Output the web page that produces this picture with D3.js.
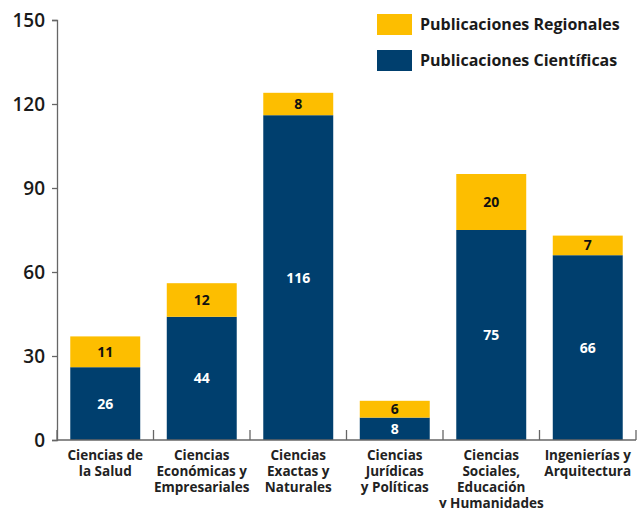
<!DOCTYPE html>
<html>
<head>
<meta charset="utf-8">
<script src="https://cdn.jsdelivr.net/npm/d3@7"></script>
<style>
  html, body { margin: 0; padding: 0; background: #fff; }
  svg { display: block; font-family: "Open Sans", "Noto Sans", sans-serif; }
</style>
</head>
<body>
<svg id="chart" width="642" height="508"></svg>
<script>
// Áreas de conocimiento (each entry is one label line)
const categories = [
  ["Ciencias de", "la Salud"],
  ["Ciencias", "Económicas y", "Empresariales"],
  ["Ciencias", "Exactas y", "Naturales"],
  ["Ciencias", "Jurídicas", "y Políticas"],
  ["Ciencias", "Sociales,", "Educación", "y Humanidades"],
  ["Ingenierías y", "Arquitectura"]
];
const cientificas = [26, 44, 116, 8, 75, 66];
const regionales = [11, 12, 8, 6, 20, 7];
const yTicks = [0, 30, 60, 90, 120, 150];
const seriesNames = ["Publicaciones Regionales", "Publicaciones Científicas"];
const colors = { regionales: "#FDBE00", cientificas: "#003F6E" };

const svg = d3.select("#chart");
const margin = { left: 57, right: 6, top: 20, bottom: 68 };
const W = 642, H = 508;

const x = d3.scaleBand()
  .domain(d3.range(categories.length))
  .range([margin.left, W - margin.right])
  .padding(0);
const y = d3.scaleLinear().domain([0, 150]).range([H - margin.bottom, margin.top]);
const barW = x.bandwidth() * 0.725;

// Stacked bars: científicas at the bottom, regionales on top
const rows = categories.map((c, i) => ({ i, cientificas: cientificas[i], regionales: regionales[i] }));
const stack = d3.stack().keys(["cientificas", "regionales"]);
const layers = stack(rows);

const g = svg.append("g");
layers.forEach(layer => {
  g.selectAll(null)
    .data(layer)
    .enter().append("rect")
    .attr("x", d => x(d.data.i) + (x.bandwidth() - barW) / 2)
    .attr("width", barW)
    .attr("y", d => y(d[1]))
    .attr("height", d => y(d[0]) - y(d[1]))
    .attr("fill", colors[layer.key]);

  g.selectAll(null)
    .data(layer)
    .enter().append("text")
    .attr("x", d => x(d.data.i) + x.bandwidth() / 2)
    .attr("y", d => (y(d[0]) + y(d[1])) / 2)
    .attr("dy", "0.36em")
    .attr("text-anchor", "middle")
    .attr("font-size", 14)
    .attr("font-weight", 700)
    .attr("fill", layer.key === "cientificas" ? "#fff" : "#111")
    .text(d => d.data[layer.key]);
});

// Y axis
const yAxis = svg.append("g")
  .attr("transform", `translate(${margin.left},0)`)
  .call(d3.axisLeft(y).tickValues(yTicks).tickSize(5).tickSizeOuter(5).tickPadding(7));
yAxis.select(".domain").attr("stroke", "#666").attr("stroke-width", 1.3);
yAxis.selectAll(".tick line").attr("stroke", "#666").attr("stroke-width", 1.3);
yAxis.selectAll(".tick text")
  .attr("font-size", 19)
  .attr("font-weight", 600)
  .attr("font-family", "'Open Sans', 'Noto Sans', sans-serif")
  .attr("fill", "#1a1a1a");

// X axis: baseline with inward ticks at category boundaries
const xBase = y(0);
svg.append("line")
  .attr("x1", margin.left).attr("x2", W - margin.right)
  .attr("y1", xBase).attr("y2", xBase)
  .attr("stroke", "#666").attr("stroke-width", 1.3);
svg.selectAll(".xtick")
  .data(d3.range(categories.length + 1))
  .enter().append("line")
  .attr("x1", i => i < categories.length ? x(i) : x(i - 1) + x.bandwidth())
  .attr("x2", i => i < categories.length ? x(i) : x(i - 1) + x.bandwidth())
  .attr("y1", xBase).attr("y2", xBase - 10)
  .attr("stroke", "#666").attr("stroke-width", 1.3);

// Category labels
const lab = svg.selectAll(".xlab")
  .data(categories)
  .enter().append("text")
  .attr("text-anchor", "middle")
  .attr("font-size", 13.5)
  .attr("font-weight", 700)
  .attr("fill", "#222");
lab.each(function (lines, i) {
  const t = d3.select(this);
  lines.forEach((line, k) => {
    t.append("tspan")
      .attr("x", x(i) + x.bandwidth() / 2)
      .attr("y", xBase + 20 + k * 16)
      .text(line);
  });
});

// Legend
const legendKeys = ["regionales", "cientificas"];
const legend = svg.append("g").attr("transform", "translate(377,14)");
legendKeys.forEach((k, i) => {
  legend.append("rect")
    .attr("x", 0).attr("y", i * 36)
    .attr("width", 35).attr("height", 21)
    .attr("fill", colors[k]);
  legend.append("text")
    .attr("x", 43).attr("y", i * 36 + 10.5)
    .attr("dy", "0.36em")
    .attr("font-size", 16)
    .attr("font-weight", 700)
    .attr("fill", "#1a1a1a")
    .text(seriesNames[i]);
});
</script>
</body>
</html>
